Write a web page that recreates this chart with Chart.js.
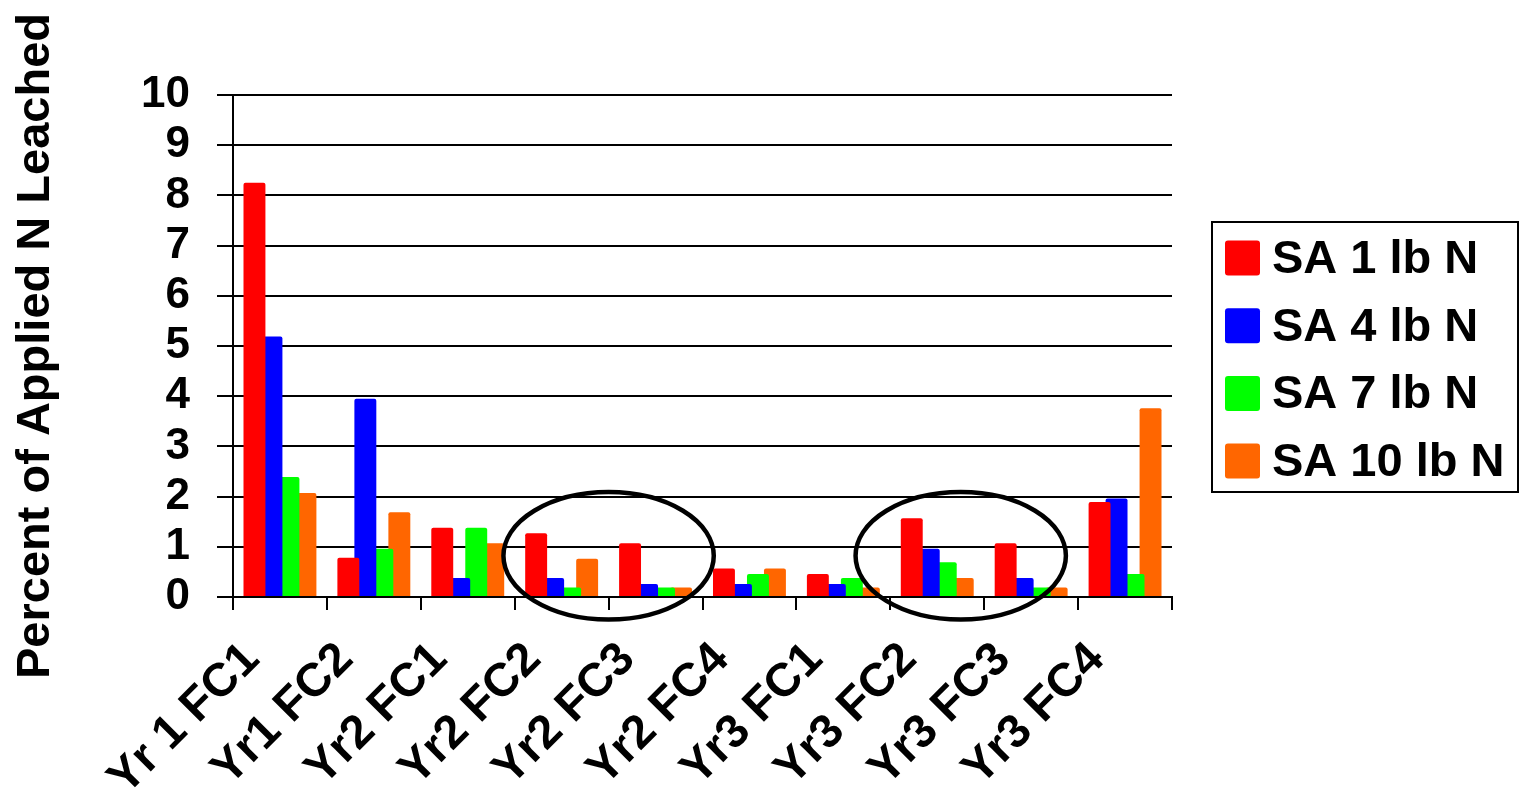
<!DOCTYPE html>
<html>
<head>
<meta charset="utf-8">
<script src="https://cdn.jsdelivr.net/npm/chart.js@4.4.1/dist/chart.umd.min.js"></script>
<style>
  html, body { margin: 0; padding: 0; background: #fff; }
  #wrap { width: 1521px; height: 793px; position: relative; }
</style>
</head>
<body>
<div id="wrap"><canvas id="c"></canvas></div>
<script>
const categories = ["Yr 1 FC1", "Yr1 FC2", "Yr2 FC1", "Yr2 FC2", "Yr2 FC3", "Yr2 FC4", "Yr3 FC1", "Yr3 FC2", "Yr3 FC3", "Yr3 FC4"];
const seriesNames = ["SA 1 lb N", "SA 4 lb N", "SA 7 lb N", "SA 10 lb N"];
const sa1 = [8.25, 0.78, 1.38, 1.27, 1.07, 0.57, 0.46, 1.57, 1.07, 1.89];
const sa4 = [5.19, 3.95, 0.38, 0.38, 0.26, 0.26, 0.26, 0.96, 0.38, 1.96];
const sa7 = [2.39, 0.96, 1.38, 0.19, 0.19, 0.46, 0.38, 0.69, 0.19, 0.46];
const sa10 = [2.07, 1.69, 1.07, 0.76, 0.19, 0.57, 0.19, 0.38, 0.19, 3.76];
const seriesColors = ["#FF0000", "#0000FF", "#00FF00", "#FF6600"];
const yTicks = [0, 1, 2, 3, 4, 5, 6, 7, 8, 9, 10];
const yTitle = "Percent of Applied N Leached";
// ellipse annotations in data units: center category index, center value, radii
const ellipses = [
  { xc: 3.5, yc: 0.82, rx: 1.12, ry: 1.27 },
  { xc: 7.25, yc: 0.82, rx: 1.12, ry: 1.27 }
];

const FONT = "'Liberation Sans', Arial, sans-serif";

const ellipsePlugin = {
  id: 'ellipses',
  afterDatasetsDraw(chart) {
    const ctx = chart.ctx, xs = chart.scales.x, ys = chart.scales.y;
    ctx.save();
    ctx.strokeStyle = '#000';
    ctx.lineWidth = 4.5;
    ellipses.forEach(e => {
      const cx = xs.getPixelForValue(e.xc);
      const cy = ys.getPixelForValue(e.yc);
      const rx = Math.abs(xs.getPixelForValue(e.xc + e.rx) - cx);
      const ry = Math.abs(ys.getPixelForValue(e.yc + e.ry) - cy);
      ctx.beginPath();
      ctx.ellipse(cx, cy, rx, ry, 0, 0, Math.PI * 2);
      ctx.stroke();
    });
    ctx.restore();
  }
};

const legendPlugin = {
  id: 'boxLegend',
  afterDraw(chart) {
    const ctx = chart.ctx;
    const bx = 1212, by = 222, bw = 306, bh = 270;
    ctx.save();
    ctx.strokeStyle = '#000';
    ctx.lineWidth = 2;
    ctx.strokeRect(bx, by, bw, bh);
    ctx.font = "bold 47px " + FONT;
    ctx.textBaseline = 'middle';
    ctx.textAlign = 'left';
    chart.data.datasets.forEach((ds, i) => {
      const cy = 258 + i * 67.7;
      ctx.fillStyle = ds.backgroundColor;
      ctx.beginPath();
      ctx.roundRect(1225, cy - 17.5, 35, 35, 3);
      ctx.fill();
      ctx.fillStyle = '#000';
      ctx.fillText(ds.label, 1272, cy + 2);
    });
    ctx.restore();
  }
};

const seriesData = [sa1, sa4, sa7, sa10];

new Chart(document.getElementById('c'), {
  type: 'bar',
  data: {
    labels: categories,
    datasets: seriesNames.map((n, i) => ({
      label: n,
      data: seriesData[i],
      backgroundColor: seriesColors[i],
      borderWidth: 0,
      borderRadius: 2,
      categoryPercentage: 0.724,
      barPercentage: 1.29
    }))
  },
  options: {
    responsive: true,
    maintainAspectRatio: false,
    animation: false,
    layout: { padding: { left: 0, right: 349, top: 95, bottom: 0 } },
    plugins: {
      legend: { display: false },
      tooltip: { enabled: false }
    },
    scales: {
      x: {
        offset: true,
        grid: {
          offset: true,
          drawOnChartArea: true,
          color: (c) => c.index === categories.length ? '#000' : 'rgba(0,0,0,0)',
          lineWidth: 2,
          tickColor: '#000',
          tickLength: 13,
          tickWidth: 2
        },
        border: { display: true, color: '#000', width: 2 },
        ticks: {
          color: '#000',
          font: { family: FONT, size: 47, weight: 'bold' },
          maxRotation: 45,
          minRotation: 45,
          autoSkip: false,
          padding: 22,
          labelOffset: -28
        },
        afterFit(scale) { scale.height = 196; }
      },
      y: {
        min: 0,
        max: 10,
        afterBuildTicks(scale) { scale.ticks = yTicks.map(v => ({ value: v })); },
        grid: {
          color: '#000',
          lineWidth: 2,
          tickLength: 16,
          tickColor: '#000'
        },
        border: { display: true, color: '#000', width: 2 },
        ticks: {
          color: '#000',
          font: { family: FONT, size: 44, weight: 'bold' },
          padding: 27,
          autoSkip: false
        },
        title: {
          display: true,
          text: yTitle,
          color: '#000',
          font: { family: FONT, size: 47, weight: 'bold' },
          padding: { top: 8, bottom: 0 }
        },
        afterFit(scale) { scale.width = 233; }
      }
    }
  },
  plugins: [ellipsePlugin, legendPlugin]
});
</script>
</body>
</html>
